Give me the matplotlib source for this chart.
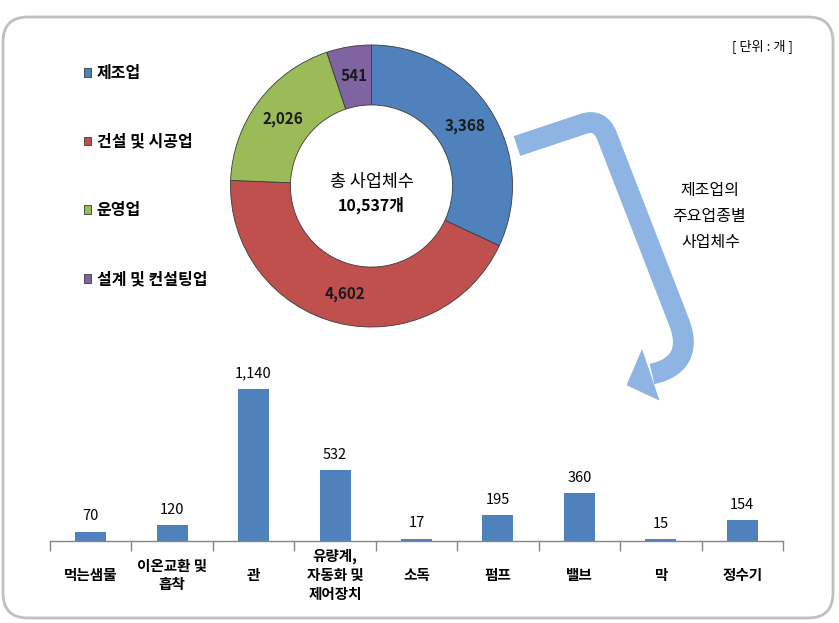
import matplotlib
matplotlib.use("Agg")
import matplotlib.pyplot as plt
from matplotlib.patches import FancyBboxPatch, PathPatch, Polygon
from matplotlib.path import Path

plt.rcParams['font.family'] = ['Noto Sans CJK KR', 'DejaVu Sans']

# ---- data ----
sectors = ['제조업', '건설 및 시공업', '운영업', '설계 및 컨설팅업']
sector_counts = [3368, 4602, 2026, 541]
sector_colors = ['#4F81BD', '#C0504D', '#9BBB59', '#8064A2']
total_label = ['총 사업체수', '10,537개']

categories = ['먹는샘물', '이온교환 및\n흡착', '관', '유량계,\n자동화 및\n제어장치',
              '소독', '펌프', '밸브', '막', '정수기']
cat_counts = [70, 120, 1140, 532, 17, 195, 360, 15, 154]

W, H = 839, 623
fig = plt.figure(figsize=(W / 100, H / 100), dpi=100)
fig.patch.set_facecolor('white')

# ---- overlay in pixel coords ----
ax0 = fig.add_axes([0, 0, 1, 1], zorder=0)
ax0.set_xlim(0, W)
ax0.set_ylim(H, 0)
ax0.axis('off')
ax0.add_patch(FancyBboxPatch((3, 17), 830, 601,
                             boxstyle='round,pad=0,rounding_size=25',
                             ec='#BFBFBF', fc='white', lw=2))

# curved arrow
verts = [(517, 146), (583, 124), (600, 118), (607, 136), (679, 322),
         (690, 350), (680, 368), (652, 374)]
codes = [Path.MOVETO, Path.LINETO, Path.CURVE3, Path.CURVE3, Path.LINETO,
         Path.CURVE4, Path.CURVE4, Path.CURVE4]
arrow_col = '#8DB4E2'
ax0.add_patch(PathPatch(Path(verts, codes), fill=False, ec=arrow_col, lw=15,
                        capstyle='butt', joinstyle='round'))
ax0.add_patch(Polygon([(642, 350), (659, 400), (627, 385)], closed=True,
                      fc=arrow_col, ec=arrow_col, lw=0.5))

ax0.text(710, 190, '제조업의', ha='center', va='center', fontsize=11.5)
ax0.text(709, 216, '주요업종별', ha='center', va='center', fontsize=11.5)
ax0.text(711, 243, '사업체수', ha='center', va='center', fontsize=11.5)
ax0.text(762, 46, '[ 단위 : 개 ]', ha='center', va='center', fontsize=9.5)

# ---- donut ----
R_px = 141
cx, cy = 371.5, 186
box = 300
axd = fig.add_axes([(cx - box / 2) / W, (H - cy - box / 2) / H, box / W, box / H], zorder=2)
axd.patch.set_alpha(0)
total = sum(sector_counts)
wedges, _, autotexts = axd.pie(
    sector_counts, colors=sector_colors, startangle=90, counterclock=False,
    radius=1, wedgeprops=dict(width=0.425, edgecolor='#3a3a3a', linewidth=0.6),
    autopct=lambda p: f"{round(p * total / 100):,}", pctdistance=0.79,
    textprops=dict(fontsize=11, fontweight='bold', color='#1a1a1a'))
lim = box / 2 / R_px
axd.set_xlim(-lim, lim)
axd.set_ylim(-lim, lim)
axd.set_aspect('equal')
axd.axis('off')
axd.text(0, 0.03, total_label[0], ha='center', va='center', fontsize=12.5)
axd.text(0, -0.14, total_label[1], ha='center', va='center', fontsize=11.5, fontweight='bold')

leg = fig.legend(wedges, sectors, loc='upper left',
                 bbox_to_anchor=(84 / W, 1 - 65 / H), bbox_transform=fig.transFigure,
                 frameon=False, handlelength=0.45, handleheight=0.45,
                 handletextpad=0.35, labelspacing=3.3, borderpad=0, borderaxespad=0,
                 prop=dict(weight='bold', size=11.5))

# ---- bars ----
x0, x1 = 50, 783
ybase, ytop = 541, 361
axb = fig.add_axes([x0 / W, (H - ybase) / H, (x1 - x0) / W, (ybase - ytop) / H], zorder=2)
axb.patch.set_alpha(0)
n = len(categories)
centers = [i + 0.5 for i in range(n)]
axb.bar(centers, cat_counts, width=0.38, color='#4F81BD')
axb.set_xlim(0, n)
axb.set_ylim(0, (ybase - ytop) / (152 / 1140))
for s in ['top', 'right', 'left']:
    axb.spines[s].set_visible(False)
axb.spines['bottom'].set_color('#868686')
axb.spines['bottom'].set_linewidth(1)
axb.set_yticks([])
axb.set_xticks(range(n + 1))
axb.set_xticklabels([])
axb.tick_params(axis='x', direction='out', length=7.5, color='#868686', width=1)
for c, v in zip(centers, cat_counts):
    axb.annotate(f"{v:,}", (c, v), xytext=(0, 6), textcoords='offset points',
                 ha='center', va='bottom', fontsize=10.5)
tr = axb.get_xaxis_transform()
for c, lab in zip(centers, categories):
    axb.text(c, -34 / (ybase - ytop), lab, transform=tr, ha='center', va='center',
             fontsize=10.5, fontweight='bold', linespacing=1.2, multialignment='center')

fig.savefig('out.png', dpi=100, facecolor='white')
